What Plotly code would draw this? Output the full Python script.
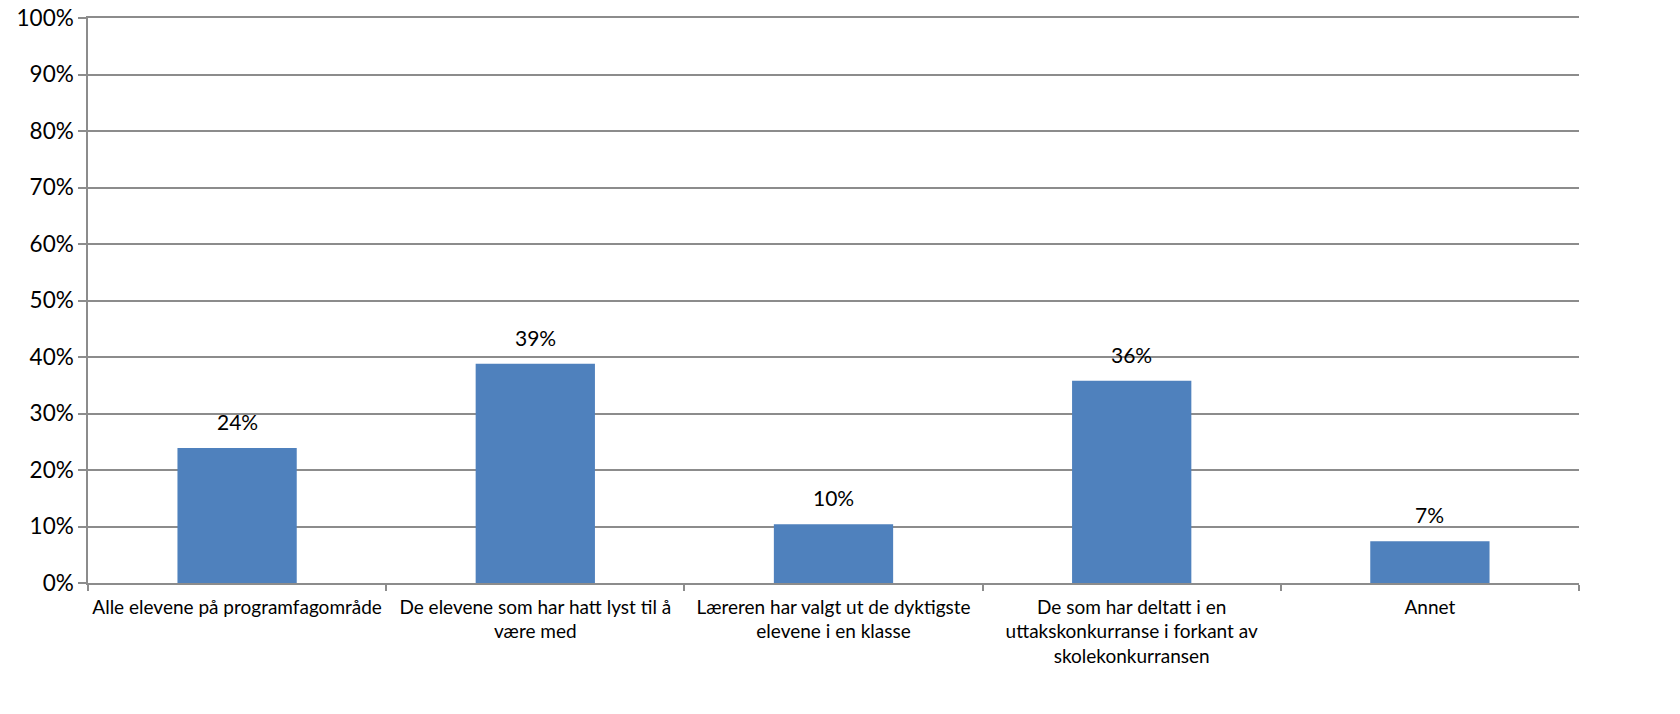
import plotly.graph_objects as go

categories = [
    "Alle elevene på programfagområde",
    "De elevene som har hatt lyst til å<br>være med",
    "Læreren har valgt ut de dyktigste<br>elevene i en klasse",
    "De som har deltatt i en<br>uttakskonkurranse i forkant av<br>skolekonkurransen",
    "Annet",
]
values = [0.239, 0.388, 0.104, 0.358, 0.074]
labels = ["24%", "39%", "10%", "36%", "7%"]

FONT = "Lato, 'Open Sans', sans-serif"
GRID = "#8c8c8c"

fig = go.Figure()
fig.add_trace(go.Bar(
    x=categories, y=values, width=0.4,
    marker=dict(color="#4f81bd", line=dict(width=0)),
    hoverinfo="skip",
))
for c, v, t in zip(categories, values, labels):
    fig.add_annotation(x=c, y=v, text=t, showarrow=False, yanchor="bottom",
                       yshift=12, font=dict(family=FONT, size=21, color="#000000"))

fig.update_layout(
    width=1680, height=714,
    margin=dict(l=88, r=101, t=18, b=131),
    paper_bgcolor="white", plot_bgcolor="white",
    showlegend=False,
    font=dict(family=FONT, color="#000000"),
)
fig.update_xaxes(
    type="category", tickson="boundaries", ticks="outside", ticklen=6,
    tickcolor=GRID, tickwidth=1.5, tickangle=0, automargin=False,
    showline=True, linecolor=GRID, linewidth=1.5, mirror=True,
    showgrid=False, ticklabelstandoff=6,
    tickfont=dict(family=FONT, size=19, color="#000000"),
)
fig.update_yaxes(
    range=[0, 1], dtick=0.1, tickformat=".0%", automargin=False,
    ticks="outside", ticklen=8, tickcolor=GRID, tickwidth=1.5,
    showline=True, linecolor=GRID, linewidth=1.5,
    showgrid=True, gridcolor=GRID, gridwidth=1.5,
    zeroline=False,
    tickfont=dict(family=FONT, size=22.5, color="#000000"),
)
fig.write_html(
    "out.html",
    config={"displayModeBar": False},
    post_script="document.body.style.margin='0';document.body.style.overflow='hidden';",
)
